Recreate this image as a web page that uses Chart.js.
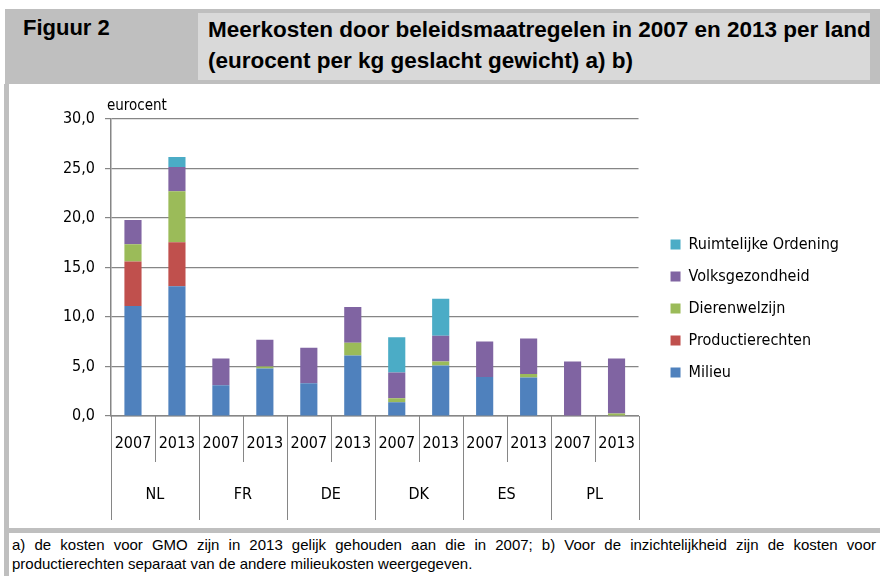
<!DOCTYPE html>
<html>
<head>
<meta charset="utf-8">
<script src="https://cdn.jsdelivr.net/npm/chart.js@4.4.1/dist/chart.umd.min.js"></script>
<style>
  body { margin: 0; width: 880px; height: 576px; position: relative; background: #fff; overflow: hidden; font-family: "Liberation Sans", Arial, sans-serif; color: #000; }
  #head { position: absolute; left: 5px; top: 9px; width: 875px; height: 75px; background: #bfbfbf; }
  #fig { position: absolute; left: 18px; top: 6px; font-weight: bold; font-size: 22px; }
  #titlebox { position: absolute; left: 193px; top: 4px; width: 672px; height: 67px; background: #d9d9d9; }
  #title { position: absolute; left: 10px; top: 1px; font-weight: bold; font-size: 22.5px; line-height: 31px; white-space: nowrap; }
  #leftbar { position: absolute; left: 4px; top: 84px; width: 5px; height: 492px; background: #bfbfbf; }
  #footbar { position: absolute; left: 4px; top: 528px; width: 876px; height: 5px; background: #bfbfbf; }
  #note { position: absolute; left: 12px; top: 535px; width: 864px; font-size: 15px; line-height: 19px; }
  #note .l1 { text-align: justify; text-align-last: justify; }
  #wrap { position: absolute; left: 10px; top: 85px; width: 870px; height: 443px; }
</style>
</head>
<body>
<div id="head">
  <div id="fig">Figuur 2</div>
  <div id="titlebox"><div id="title">Meerkosten door beleidsmaatregelen in 2007 en 2013 per land<br>(eurocent per kg geslacht gewicht) a) b)</div></div>
</div>
<div id="leftbar"></div>
<div id="wrap"><canvas id="myChart"></canvas></div>
<div id="footbar"></div>
<div id="note">
  <div class="l1">a) de kosten voor GMO zijn in 2013 gelijk gehouden aan die in 2007; b) Voor de inzichtelijkheid zijn de kosten voor</div>
  <div>productierechten separaat van de andere milieukosten weergegeven.</div>
</div>
<script>
const countries = ["NL", "FR", "DE", "DK", "ES", "PL"];
const years = ["2007", "2013"];

// per bar: NL07, NL13, FR07, FR13, DE07, DE13, DK07, DK13, ES07, ES13, PL07, PL13
const milieu              = [11.1, 13.1, 3.1, 4.8, 3.3, 6.1, 1.4, 5.1, 3.95, 3.9, 0, 0];
const productierechten    = [4.5, 4.45, 0, 0, 0, 0, 0, 0, 0, 0, 0, 0];
const dierenwelzijn       = [1.75, 5.15, 0, 0.2, 0, 1.3, 0.4, 0.4, 0, 0.35, 0, 0.25];
const volksgezondheid     = [2.45, 2.45, 2.7, 2.7, 3.6, 3.6, 2.6, 2.6, 3.57, 3.57, 5.5, 5.55];
const ruimtelijkeOrdening = [0, 1.0, 0, 0, 0, 0, 3.55, 3.75, 0, 0, 0, 0];

const yTicks = [0, 5, 10, 15, 20, 25, 30];

const narrow = "'Liberation Sans Narrow', 'DejaVu Sans Condensed', sans-serif";
const axisGrey = "#868686";

const labels = [];
countries.forEach(function () {
  years.forEach(function (y) { labels.push(y); });
});

// country row + separators under the year labels
const groupAxis = {
  id: "groupAxis",
  afterLayout: function (chart) {
    // nudge the legend to where the original puts it
    const lg = chart.legend;
    lg.left += 16; lg.right += 16;
    lg.top -= 15; lg.bottom -= 15;
  },
  afterDraw: function (chart) {
    const c = chart.ctx;
    const x = chart.scales.x;
    const a = chart.chartArea;
    const n = labels.length;
    c.save();
    c.strokeStyle = axisGrey;
    c.lineWidth = 1;
    for (let i = 0; i <= n; i++) {
      let px;
      if (i === 0) px = a.left;
      else if (i === n) px = a.right;
      else px = (x.getPixelForValue(i - 1) + x.getPixelForValue(i)) / 2;
      px = Math.round(px) + 0.5;
      const len = (i % 2 === 0) ? 104 : 46;
      c.beginPath();
      c.moveTo(px, a.bottom);
      c.lineTo(px, a.bottom + len);
      c.stroke();
    }
    c.fillStyle = "#000";
    c.font = "16px " + narrow;
    c.textAlign = "center";
    c.textBaseline = "middle";
    countries.forEach(function (name, k) {
      const cx = (x.getPixelForValue(2 * k) + x.getPixelForValue(2 * k + 1)) / 2;
      c.fillText(name, cx, a.bottom + 79);
    });
    c.textAlign = "left";
    c.textBaseline = "alphabetic";
    c.font = "15px " + narrow;
    c.fillText("eurocent", a.left - 4, a.top - 9);
    c.restore();
  }
};

new Chart(document.getElementById("myChart"), {
  type: "bar",
  data: {
    labels: labels,
    datasets: [
      { label: "Milieu", data: milieu, backgroundColor: "#4f81bd" },
      { label: "Productierechten", data: productierechten, backgroundColor: "#c0504d" },
      { label: "Dierenwelzijn", data: dierenwelzijn, backgroundColor: "#9bbb59" },
      { label: "Volksgezondheid", data: volksgezondheid, backgroundColor: "#8064a2" },
      { label: "Ruimtelijke Ordening", data: ruimtelijkeOrdening, backgroundColor: "#4bacc6" }
    ]
  },
  options: {
    responsive: true,
    maintainAspectRatio: false,
    animation: false,
    datasets: { bar: { barPercentage: 0.39, categoryPercentage: 1, borderWidth: 0 } },
    layout: { padding: { top: 34, right: 47, left: 0, bottom: 0 } },
    plugins: {
      tooltip: { enabled: false },
      legend: {
        position: "right",
        reverse: true,
        labels: {
          boxWidth: 10,
          boxHeight: 10,
          padding: 16,
          color: "#000",
          font: { family: narrow, size: 16 }
        }
      }
    },
    scales: {
      x: {
        stacked: true,
        grid: { display: false, drawTicks: false },
        border: { color: axisGrey, width: 1.5 },
        ticks: { color: "#000", font: { family: narrow, size: 16 }, padding: 18, maxRotation: 0, autoSkip: false },
        afterFit: function (s) { s.height = 112; }
      },
      y: {
        stacked: true,
        min: 0,
        max: 30,
        afterBuildTicks: function (s) { s.ticks = yTicks.map(function (v) { return { value: v }; }); },
        grid: { color: axisGrey, lineWidth: 1.2, tickLength: 6 },
        border: { color: axisGrey, width: 1.5 },
        ticks: {
          color: "#000",
          padding: 10,
          font: { family: narrow, size: 16 },
          callback: function (v) { return v.toFixed(1).replace(".", ","); }
        },
        afterFit: function (s) { s.width = 101; }
      }
    }
  },
  plugins: [groupAxis]
});
</script>
</body>
</html>
